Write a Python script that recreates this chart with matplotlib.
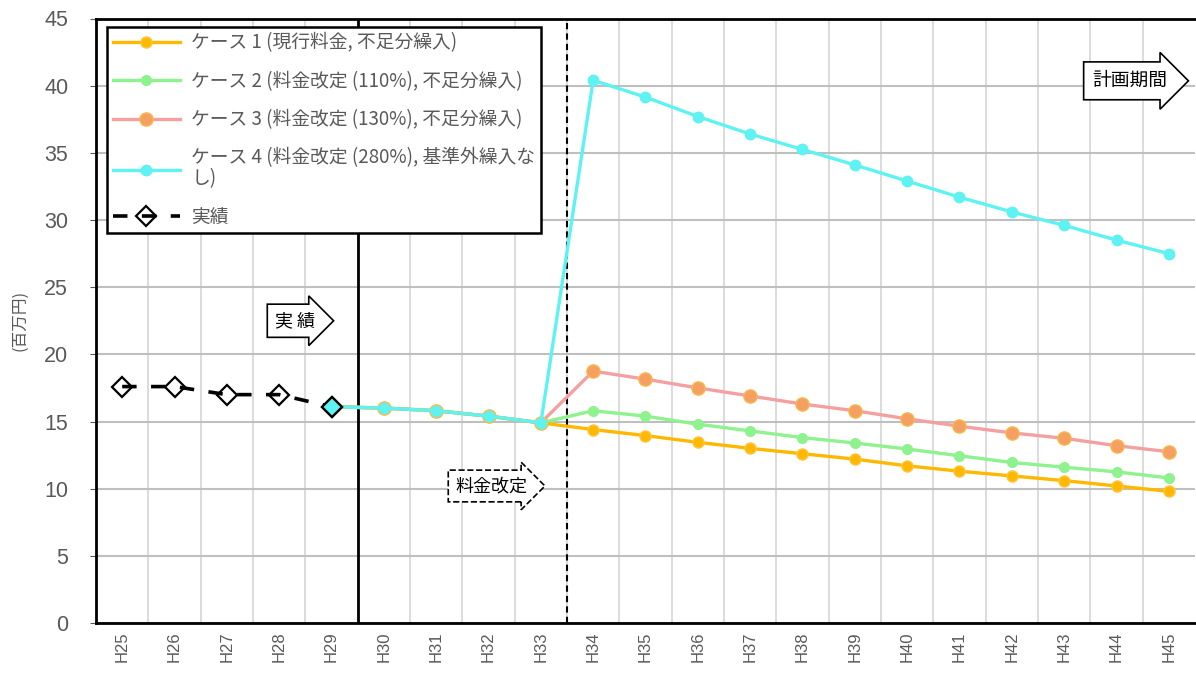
import numpy as np
import matplotlib

matplotlib.use("Agg")
import matplotlib.pyplot as plt

plt.rcParams["font.family"] = ["Noto Sans CJK JP", "DejaVu Sans"]

YEARS = [f"H{n}" for n in range(25, 46)]
NAN = np.nan

# 実績 (H25-H29)
ACTUAL = [17.6, 17.6, 17.0, 17.0, 16.1] + [NAN] * 16

# cases share H29-H33, diverge from H34
CASE1 = [NAN] * 4 + [16.1, 16.0, 15.8, 15.4, 14.9,
                     14.4, 13.95, 13.45, 13.0, 12.6, 12.2, 11.7, 11.3, 10.95, 10.6, 10.2, 9.8]
CASE2 = [NAN] * 4 + [16.1, 16.0, 15.8, 15.4, 14.9,
                     15.8, 15.4, 14.8, 14.3, 13.8, 13.4, 12.95, 12.45, 11.95, 11.6, 11.25, 10.8]
CASE3 = [NAN] * 4 + [16.1, 16.0, 15.8, 15.4, 14.9,
                     18.75, 18.15, 17.5, 16.9, 16.3, 15.8, 15.2, 14.65, 14.15, 13.75, 13.2, 12.75]
CASE4 = [NAN] * 4 + [16.1, 16.0, 15.8, 15.4, 14.9,
                     40.4, 39.15, 37.7, 36.4, 35.25, 34.1, 32.9, 31.7, 30.6, 29.6, 28.5, 27.5]

LABELS = [
    "ケース 1 (現行料金, 不足分繰入)",
    "ケース 2 (料金改定 (110%), 不足分繰入)",
    "ケース 3 (料金改定 (130%), 不足分繰入)",
    "ケース 4 (料金改定 (280%), 基準外繰入な\nし)",
    "実績",
]

TICK_FONT = ["Liberation Sans Narrow", "Liberation Sans"]
GRAY = "#595959"


def main() -> None:
    fig = plt.figure(figsize=(11.96, 6.73), dpi=100)
    ax = fig.add_axes([96 / 1196, 50 / 673, 1099 / 1196, 604.5 / 673])
    x = np.arange(len(YEARS))

    # grid: vertical lines on category boundaries, horizontal every 5
    ax.set_xticks(x[:-1] + 0.5, minor=True)
    ax.grid(True, which="minor", axis="x", color="#d9d9d9", linewidth=1.3)
    ax.grid(True, which="major", axis="y", color="#bfbfbf", linewidth=1.5)
    ax.set_axisbelow(True)

    c3, = ax.plot(x, CASE3, color="#f4a0a0", linewidth=2.4, marker="o", markersize=9.5,
                  markerfacecolor="#f5a062", markeredgecolor="#f7b84a", markeredgewidth=1.0, zorder=3)
    c2, = ax.plot(x, CASE2, color="#8ef28e", linewidth=2.4, marker="o", markersize=7,
                  markerfacecolor="#8ef28e", markeredgecolor="#8ef28e", zorder=4)
    c1, = ax.plot(x, CASE1, color="#ffb800", linewidth=2.4, marker="o", markersize=8,
                  markerfacecolor="#ffb800", markeredgecolor="#ffc640", zorder=5)
    c4, = ax.plot(x, CASE4, color="#5ef2f2", linewidth=2.4, marker="o", markersize=7.5,
                  markerfacecolor="#5ef2f2", markeredgecolor="#5ef2f2", zorder=6)
    act, = ax.plot(x, ACTUAL, color="black", linewidth=2.6, linestyle=(0, (4, 4)), marker="D",
                   markersize=10, markerfacecolor="none", markeredgecolor="black",
                   markeredgewidth=1.6, zorder=7)
    # last actual point shown in case-4 colour
    last = int(np.nanargmax(np.where(np.isnan(ACTUAL), -1, x)))
    ax.plot(x[last], ACTUAL[last], marker="D", markersize=10, markerfacecolor="#5ef2f2",
            markeredgecolor="black", markeredgewidth=1.6, linestyle="none", zorder=8)

    # period separators
    ax.axvline(4.5, color="black", linewidth=2.0, zorder=2)
    ax.axvline(8.5, color="black", linewidth=1.5, linestyle=(0, (3, 2)), zorder=2)

    box = dict(fc="white", ec="black", linewidth=1.2)
    ax.text(3.3, 22.5, "実 績", fontsize=13, ha="center", va="center", zorder=9,
            bbox=dict(boxstyle="rarrow,pad=0.42", **box))
    ax.text(7.05, 10.2, "料金改定", fontsize=13, ha="center", va="center", zorder=9,
            bbox=dict(boxstyle="rarrow,pad=0.38", linestyle="--", fc="white", ec="black", linewidth=1.2))
    ax.text(19.25, 40.36, "計画期間", fontsize=13.5, ha="center", va="center", zorder=9,
            clip_on=False, bbox=dict(boxstyle="rarrow,pad=0.45", **box))

    ax.set_xlim(-0.5, len(YEARS) - 0.5)
    ax.set_ylim(0, 45)
    ax.set_yticks(np.arange(0, 46, 5))
    ax.set_xticks(x)
    ax.set_xticklabels(YEARS, rotation=90, fontsize=12, color=GRAY, family=TICK_FONT)
    for lab in ax.get_yticklabels():
        lab.set_family(TICK_FONT)
        lab.set_fontsize(15.5)
        lab.set_color(GRAY)
    ax.tick_params(axis="x", which="both", length=0, pad=6)
    ax.tick_params(axis="y", length=4, color=GRAY, pad=16)
    ax.set_ylabel("(百万円)", fontsize=12, color=GRAY, labelpad=11)

    for side in ("left", "bottom", "top"):
        ax.spines[side].set_linewidth(2.0)
        ax.spines[side].set_color("black")
    ax.spines["right"].set_visible(False)

    handles = [c1, c2, c3, c4, act]
    leg = ax.legend(handles, LABELS, loc="upper left", bbox_to_anchor=(0.01, 0.986),
                    borderaxespad=0, fontsize=13.5, labelcolor=GRAY, frameon=True,
                    fancybox=False, framealpha=1, edgecolor="black", handlelength=3.6,
                    labelspacing=0.92, borderpad=0.3, handletextpad=0.6)
    for text in leg.get_texts():
        text.set_linespacing(1.0)
    leg.get_frame().set_linewidth(1.8)
    leg.set_zorder(10)

    fig.savefig("out.png", dpi=100)
    plt.close(fig)


if __name__ == "__main__":
    main()
